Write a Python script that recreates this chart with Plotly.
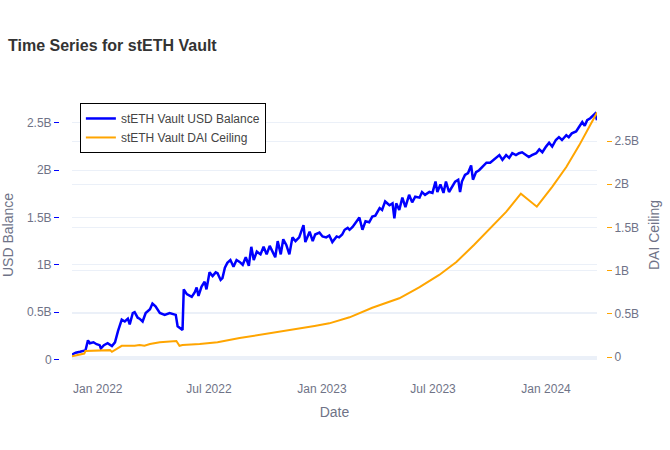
import plotly.graph_objects as go

# stETH vault USD balance (billions)
balance_dates = [
    "2021-11-20", "2021-11-26", "2021-12-03", "2021-12-09", "2021-12-12", "2021-12-16",
    "2021-12-19", "2021-12-25", "2021-12-30", "2022-01-04", "2022-01-06", "2022-01-11",
    "2022-01-17", "2022-01-24", "2022-01-29", "2022-02-03", "2022-02-06", "2022-02-09",
    "2022-02-14", "2022-02-19", "2022-02-22", "2022-02-27", "2022-03-02", "2022-03-07",
    "2022-03-10", "2022-03-15", "2022-03-20", "2022-03-27", "2022-03-31", "2022-04-05",
    "2022-04-12", "2022-04-20", "2022-04-28", "2022-05-08", "2022-05-11", "2022-05-18",
    "2022-05-19", "2022-05-21", "2022-05-26", "2022-06-03", "2022-06-08", "2022-06-11",
    "2022-06-14", "2022-06-19", "2022-06-24", "2022-06-27", "2022-07-02", "2022-07-07",
    "2022-07-12", "2022-07-15", "2022-07-20", "2022-07-23", "2022-07-27", "2022-07-31",
    "2022-08-05", "2022-08-10", "2022-08-15", "2022-08-20", "2022-08-25", "2022-08-30",
    "2022-09-04", "2022-09-08", "2022-09-12", "2022-09-17", "2022-09-23", "2022-09-28",
    "2022-10-03", "2022-10-08", "2022-10-13", "2022-10-17", "2022-10-21", "2022-10-26",
    "2022-10-30", "2022-11-04", "2022-11-09", "2022-11-14", "2022-11-19", "2022-11-25",
    "2022-12-02", "2022-12-05", "2022-12-12", "2022-12-17", "2022-12-21", "2022-12-28",
    "2023-01-02", "2023-01-08", "2023-01-13", "2023-01-18", "2023-01-25", "2023-01-29",
    "2023-02-03", "2023-02-07", "2023-02-12", "2023-02-15", "2023-02-20", "2023-02-25",
    "2023-03-03", "2023-03-08", "2023-03-13", "2023-03-19", "2023-03-24", "2023-03-29",
    "2023-04-05", "2023-04-09", "2023-04-14", "2023-04-21", "2023-04-26", "2023-04-29",
    "2023-05-02", "2023-05-07", "2023-05-12", "2023-05-17", "2023-05-23", "2023-05-28",
    "2023-06-02", "2023-06-09", "2023-06-13", "2023-06-18", "2023-06-25", "2023-06-30",
    "2023-07-05", "2023-07-08", "2023-07-13", "2023-07-18", "2023-07-22", "2023-07-27",
    "2023-08-01", "2023-08-06", "2023-08-11", "2023-08-14", "2023-08-17", "2023-08-22",
    "2023-08-27", "2023-09-01", "2023-09-04", "2023-09-09", "2023-09-14", "2023-09-19",
    "2023-09-26", "2023-10-02", "2023-10-07", "2023-10-12", "2023-10-17", "2023-10-22",
    "2023-10-28", "2023-11-02", "2023-11-07", "2023-11-13", "2023-11-18", "2023-11-23",
    "2023-11-30", "2023-12-04", "2023-12-09", "2023-12-16", "2023-12-21", "2023-12-26",
    "2024-01-01", "2024-01-06", "2024-01-11", "2024-01-17", "2024-01-22", "2024-01-27",
    "2024-02-03", "2024-02-07", "2024-02-12", "2024-02-19", "2024-02-24", "2024-02-29",
    "2024-03-04", "2024-03-08", "2024-03-13", "2024-03-17", "2024-03-21", "2024-03-24",
]
balance_bn = [
    0.05, 0.07, 0.08, 0.09, 0.095, 0.20,
    0.17, 0.18, 0.16, 0.15, 0.115, 0.15,
    0.17, 0.14, 0.18, 0.30, 0.36, 0.42,
    0.40, 0.43, 0.37, 0.49, 0.50, 0.44,
    0.43, 0.40, 0.49, 0.53, 0.59, 0.56,
    0.49, 0.47, 0.49, 0.47, 0.35, 0.32,
    0.31, 0.74, 0.69, 0.66, 0.71, 0.76,
    0.67, 0.77, 0.82, 0.74, 0.92, 0.88,
    0.92, 0.91, 0.84, 0.86, 0.97, 1.02,
    1.05, 0.98, 1.05, 1.03, 1.00, 1.08,
    0.99, 1.19, 1.05, 1.14, 1.11, 1.19,
    1.11, 1.20, 1.14, 1.08, 1.25, 1.11,
    1.27, 1.21, 1.11, 1.29, 1.25, 1.29,
    1.42, 1.24, 1.35, 1.25, 1.32, 1.34,
    1.30, 1.29, 1.31, 1.24, 1.30, 1.29,
    1.32, 1.37, 1.39, 1.37, 1.40, 1.45,
    1.50, 1.37, 1.46, 1.45, 1.51, 1.52,
    1.60, 1.58, 1.67, 1.63, 1.65, 1.49,
    1.65, 1.58, 1.71, 1.61, 1.74, 1.66,
    1.72, 1.71, 1.77, 1.74, 1.77, 1.76,
    1.88, 1.77, 1.85, 1.76, 1.88, 1.77,
    1.83, 1.88, 1.90, 1.77, 1.88, 1.95,
    1.97, 2.05, 1.90, 1.98, 2.00, 2.03,
    2.08, 2.08, 2.11, 2.13, 2.16, 2.11,
    2.16, 2.13, 2.18, 2.16, 2.18, 2.19,
    2.16, 2.14, 2.16, 2.18, 2.22, 2.19,
    2.25, 2.29, 2.25, 2.32, 2.35, 2.32,
    2.37, 2.35, 2.39, 2.41, 2.46, 2.51,
    2.47, 2.53, 2.55, 2.58, 2.60, 2.53,
]

# DAI debt ceiling for the vault (billions)
ceiling_dates = [
    "2021-11-20", "2021-12-03", "2021-12-10", "2021-12-12", "2022-01-04", "2022-01-21",
    "2022-01-24", "2022-01-29", "2022-02-03", "2022-02-09", "2022-03-02", "2022-03-10",
    "2022-03-18", "2022-03-27", "2022-04-12", "2022-05-09", "2022-05-14", "2022-05-19",
    "2022-06-16", "2022-07-15", "2022-08-20", "2022-10-24", "2022-12-20", "2023-01-13",
    "2023-02-15", "2023-03-24", "2023-05-07", "2023-06-04", "2023-06-09", "2023-07-11",
    "2023-08-08", "2023-09-06", "2023-09-30", "2023-10-28", "2023-11-21", "2023-12-17",
    "2024-01-11", "2024-02-03", "2024-02-24", "2024-03-11", "2024-03-24",
]
ceiling_bn = [
    0.01, 0.03, 0.04, 0.07, 0.08, 0.08,
    0.06, 0.08, 0.10, 0.13, 0.13, 0.14,
    0.13, 0.15, 0.17, 0.185, 0.13, 0.14,
    0.15, 0.17, 0.22, 0.29, 0.36, 0.39,
    0.46, 0.57, 0.68, 0.79, 0.81, 0.95,
    1.10, 1.30, 1.47, 1.68, 1.89, 1.74,
    1.97, 2.20, 2.45, 2.66, 2.83,
]

fig = go.Figure()
fig.add_trace(go.Scatter(
    x=balance_dates, y=[v * 1e9 for v in balance_bn],
    mode="lines", name="stETH Vault USD Balance",
    line=dict(color="blue", width=2.5),
))
fig.add_trace(go.Scatter(
    x=ceiling_dates, y=[v * 1e9 for v in ceiling_bn],
    mode="lines", name="stETH Vault DAI Ceiling",
    line=dict(color="orange", width=2), yaxis="y2",
))

# invisible axis lines push ticks and labels away from the plot edge
def hidden_line(width):
    return dict(showline=True, linecolor="rgba(0,0,0,0)", linewidth=width)

fig.update_layout(
    template="plotly_white",
    width=670, height=450,
    margin=dict(l=72, r=73, t=100, b=80),
    font=dict(family="Arial", size=12, color="#6f7387"),
    title=dict(text="<b>Time Series for stETH Vault</b>", x=0.012, xanchor="left",
               y=0.9, yanchor="middle", font=dict(size=16, color="#333")),
    xaxis=dict(title="Date", showgrid=False, automargin=False, **hidden_line(9)),
    yaxis=dict(title=dict(text="USD Balance", standoff=16), range=[-0.113e9, 2.743e9],
               automargin=False, ticks="outside", tickcolor="blue", ticklen=5,
               **hidden_line(13)),
    yaxis2=dict(title="DAI Ceiling", overlaying="y", side="right",
                range=[-0.15e9, 2.975e9], automargin=False,
                ticks="outside", tickcolor="orange", ticklen=5, **hidden_line(10)),
    legend=dict(x=0.015, y=0.989, xanchor="left", yanchor="top",
                bgcolor="white", bordercolor="black", borderwidth=1,
                font=dict(color="#444")),
)

# the figure fills the whole window, so drop the page's default body margin
fig.write_html("out.html", config={"displayModeBar": False},
               post_script="document.body.style.margin = '0';")
